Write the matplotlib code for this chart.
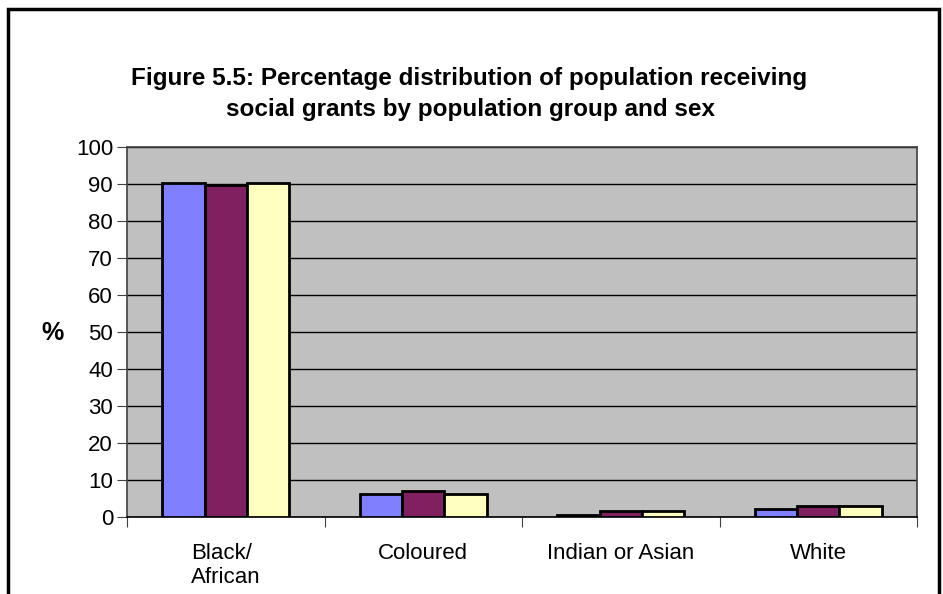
import numpy as np
import matplotlib.pyplot as plt
from matplotlib.patches import Rectangle

# data
categories = ["Black/\nAfrican", "Coloured", "Indian or Asian", "White"]
series_a = [90.3, 6.2, 0.6, 2.2]
series_b = [89.6, 7.0, 1.5, 3.0]
series_c = [90.3, 6.2, 1.5, 2.9]
colors = ["#8080FF", "#802060", "#FFFFC0"]

plt.rcParams['font.family'] = ['Liberation Sans', 'DejaVu Sans']

fig = plt.figure(figsize=(9.43, 5.94), dpi=100)
ax = fig.add_axes([127/943, 1 - 517/594, (917-127)/943, (517-147)/594])

x = np.arange(len(categories))
w = 0.215
for i, (vals, c) in enumerate(zip([series_a, series_b, series_c], colors)):
    ax.bar(x + (i - 1) * w, vals, w, color=c, edgecolor="black", linewidth=2, zorder=3)

ax.set_facecolor("#C0C0C0")
ax.set_xlim(-0.5, len(categories) - 0.5)
ax.set_ylim(0, 100)
ax.set_yticks(np.arange(0, 101, 10))
ax.yaxis.grid(True, color="black", linewidth=1, zorder=0)
ax.set_axisbelow(True)
ax.set_xticks(np.arange(-0.5, len(categories), 1), minor=False)
ax.set_xticklabels([])
ax.set_xticks(x, minor=True)
ax.set_xticklabels(categories, minor=True, fontsize=16, linespacing=1.15,
                   multialignment="left")
ax.tick_params(axis="x", which="minor", length=0, pad=19)
ax.tick_params(axis="x", which="major", length=7, direction="out", color="#404040")
ax.tick_params(axis="y", labelsize=16, length=7, color="#404040", pad=3)
for s in ax.spines.values():
    s.set_color("#404040")
    s.set_linewidth(1.2)
ax.spines["bottom"].set_color("black")

fig.text(53/943, 1 - 333/594, "%", ha="center", va="center", fontsize=18, fontweight="bold")

fig.text(469/943, 1 - 78/594, "Figure 5.5: Percentage distribution of population receiving",
         ha="center", va="center", fontsize=17.5, fontweight="bold")
fig.text(470/943, 1 - 110/594, "social grants by population group and sex",
         ha="center", va="center", fontsize=17.5, fontweight="bold")

fig.patches.append(Rectangle((8/943, -0.05), 931/943, 1.05 - 9/594, transform=fig.transFigure,
                             fill=False, edgecolor="black", linewidth=2.5))

fig.savefig("out.png", dpi=100)
